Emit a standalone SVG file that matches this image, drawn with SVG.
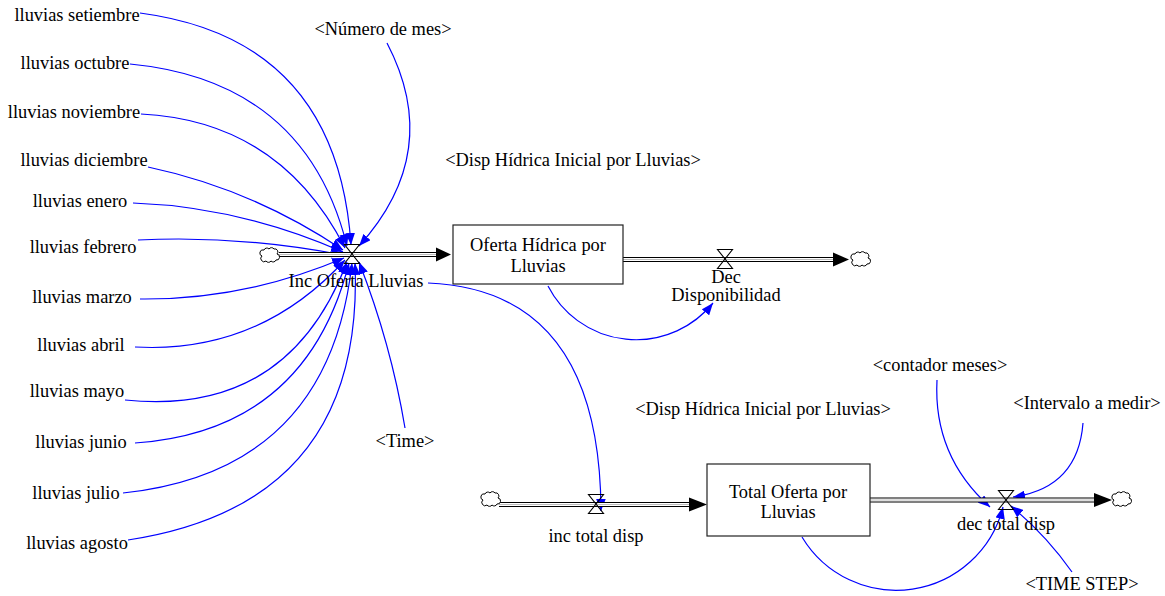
<svg xmlns="http://www.w3.org/2000/svg" width="1165" height="596" viewBox="0 0 1165 596">
  <style>
    text { font-family: "Liberation Serif", "Times New Roman", serif; font-size: 18.4px; fill: #000; text-anchor: middle; }
    .link { fill: none; stroke: #0000FF; stroke-width: 1.2; marker-end: url(#arr); }
    .pipe-out { fill: none; stroke: #000; stroke-width: 5; }
    .pipe-in { fill: none; stroke: #fff; stroke-width: 3; }
    .pipe-mid { fill: none; stroke: #aaa; stroke-width: 0.8; }
    .stock { fill: #fff; stroke: #222; stroke-width: 1.2; }
    .valve { fill: none; stroke: #000; stroke-width: 1.1; }
    .cloud { fill: #fff; stroke: #000; stroke-width: 1; }
    .head { fill: #000; }
  </style>
  <defs>
    <marker id="arr" markerUnits="userSpaceOnUse" viewBox="0 0 10 8" markerWidth="12" markerHeight="9.6" refX="10" refY="4" orient="auto">
      <path d="M0,0 L10,4 L0,8 z" fill="#0000FF"/>
    </marker>
    <path id="cloudShape" class="cloud" d="M-6,-5 a3,3 0 0,1 5,-1 a3,3 0 0,1 5,0 a3,3 0 0,1 3,5 a3,3 0 0,1 -1,6 a3,3 0 0,1 -5,1 a3,3 0 0,1 -5,0 a3,3 0 0,1 -4,-5 a3,3 0 0,1 2,-6 z"/>
    <path id="valveShape" class="valve" d="M-7.5,-9.5 H7.5 L-7.5,9.5 H7.5 Z"/>
  </defs>

  <!-- causal links -->
  <g id="connectors">
    <path class="link" d="M140,13 Q337,39 351,245"/>
    <path class="link" d="M130,64 Q306,81 347,246"/>
    <path class="link" d="M141,114 Q280,121 345,248"/>
    <path class="link" d="M148,167 Q252,189 343,250"/>
    <path class="link" d="M133,203 Q241,207 343,252"/>
    <path class="link" d="M138,240 Q240,235 343,255"/>
    <path class="link" d="M140,299 Q245,300 344,258"/>
    <path class="link" d="M135,347 Q259,354 345,260"/>
    <path class="link" d="M125,400 Q288,417 347,262"/>
    <path class="link" d="M135,443 Q306,431 349,263"/>
    <path class="link" d="M123,493 Q329,471 352,263"/>
    <path class="link" d="M128,540 Q365,504 355,263"/>
    <path class="link" d="M405,428 Q391,344 359,262"/>
    <path class="link" d="M387,43 Q444,152 359,246"/>
    <path class="link" d="M428,283 Q600,290 601,511"/>
    <path class="link" d="M548,286 A99,99 0 0,0 713,303"/>
    <path class="link" d="M802,537 A110,110 0 0,0 1003,507"/>
    <path class="link" d="M937,380 Q933,456 990,507"/>
    <path class="link" d="M1083,423 Q1078,488 1013,497"/>
    <path class="link" d="M1072,572 Q1046,535 1011,506"/>
  </g>

  <!-- flow pipes -->
  <g id="pipes">
    <path class="pipe-out" d="M279,254.5 H438"/>
    <path class="pipe-in" d="M279,254.5 H438"/>
    <path class="pipe-mid" d="M279,254.5 H438"/>
    <polygon class="head" points="436,247.5 451,254.5 436,261.5"/>

    <path class="pipe-out" d="M623,259.5 H835"/>
    <path class="pipe-in" d="M623,259.5 H835"/>
    <path class="pipe-mid" d="M623,259.5 H835"/>
    <polygon class="head" points="833,252.5 849,259.5 833,266.5"/>

    <path class="pipe-out" d="M499,504.5 H691"/>
    <path class="pipe-in" d="M499,504.5 H691"/>
    <path class="pipe-mid" d="M499,504.5 H691"/>
    <polygon class="head" points="689,497.5 707,504.5 689,511.5"/>

    <path class="pipe-out" d="M870,500 H1096"/>
    <path class="pipe-in" d="M870,500 H1096"/>
    <path class="pipe-mid" d="M870,500 H1096"/>
    <polygon class="head" points="1094,493 1112,500 1094,507"/>
  </g>

  <!-- sources and sinks -->
  <g id="clouds">
    <use href="#cloudShape" x="270" y="255"/>
    <use href="#cloudShape" x="861" y="259"/>
    <use href="#cloudShape" x="491" y="499"/>
    <use href="#cloudShape" x="1122" y="499"/>
  </g>

  <!-- stocks -->
  <g id="stock-oferta-hidrica">
    <rect class="stock" x="453" y="225" width="170" height="59"/>
    <text x="538" y="251">Oferta Hídrica por</text>
    <text x="538" y="272">Lluvias</text>
  </g>
  <g id="stock-total-oferta">
    <rect class="stock" x="707" y="464" width="163" height="72"/>
    <text x="788" y="498">Total Oferta por</text>
    <text x="788" y="518">Lluvias</text>
  </g>

  <!-- flows -->
  <g id="flow-inc-oferta">
    <use href="#valveShape" x="352" y="254"/>
    <text x="356" y="287">Inc Oferta Lluvias</text>
  </g>
  <g id="flow-dec-disponibilidad">
    <use href="#valveShape" x="725" y="259"/>
    <text x="726" y="283">Dec</text>
    <text x="726" y="301">Disponibilidad</text>
  </g>
  <g id="flow-inc-total">
    <use href="#valveShape" x="596" y="504"/>
    <text x="596" y="542">inc total disp</text>
  </g>
  <g id="flow-dec-total">
    <use href="#valveShape" x="1006" y="500"/>
    <text x="1006" y="530">dec total disp</text>
  </g>

  <!-- auxiliary variables -->
  <g id="lluvias-setiembre"><text x="77" y="21">lluvias setiembre</text></g>
  <g id="lluvias-octubre"><text x="75" y="69">lluvias octubre</text></g>
  <g id="lluvias-noviembre"><text x="74" y="118">lluvias noviembre</text></g>
  <g id="lluvias-diciembre"><text x="84" y="166">lluvias diciembre</text></g>
  <g id="lluvias-enero"><text x="80" y="207">lluvias enero</text></g>
  <g id="lluvias-febrero"><text x="83" y="253">lluvias febrero</text></g>
  <g id="lluvias-marzo"><text x="82" y="303">lluvias marzo</text></g>
  <g id="lluvias-abril"><text x="81" y="351">lluvias abril</text></g>
  <g id="lluvias-mayo"><text x="77" y="397">lluvias mayo</text></g>
  <g id="lluvias-junio"><text x="81" y="448">lluvias junio</text></g>
  <g id="lluvias-julio"><text x="76" y="499">lluvias julio</text></g>
  <g id="lluvias-agosto"><text x="77" y="549">lluvias agosto</text></g>

  <!-- shadow variables -->
  <g id="numero-de-mes"><text x="383" y="35">&lt;Número de mes&gt;</text></g>
  <g id="time"><text x="405" y="447">&lt;Time&gt;</text></g>
  <g id="disp-inicial-1"><text x="573" y="166">&lt;Disp Hídrica Inicial por Lluvias&gt;</text></g>
  <g id="disp-inicial-2"><text x="763" y="415">&lt;Disp Hídrica Inicial por Lluvias&gt;</text></g>
  <g id="contador-meses"><text x="940" y="371">&lt;contador meses&gt;</text></g>
  <g id="intervalo-a-medir"><text x="1087" y="409">&lt;Intervalo a medir&gt;</text></g>
  <g id="time-step"><text x="1082" y="590">&lt;TIME STEP&gt;</text></g>
</svg>
